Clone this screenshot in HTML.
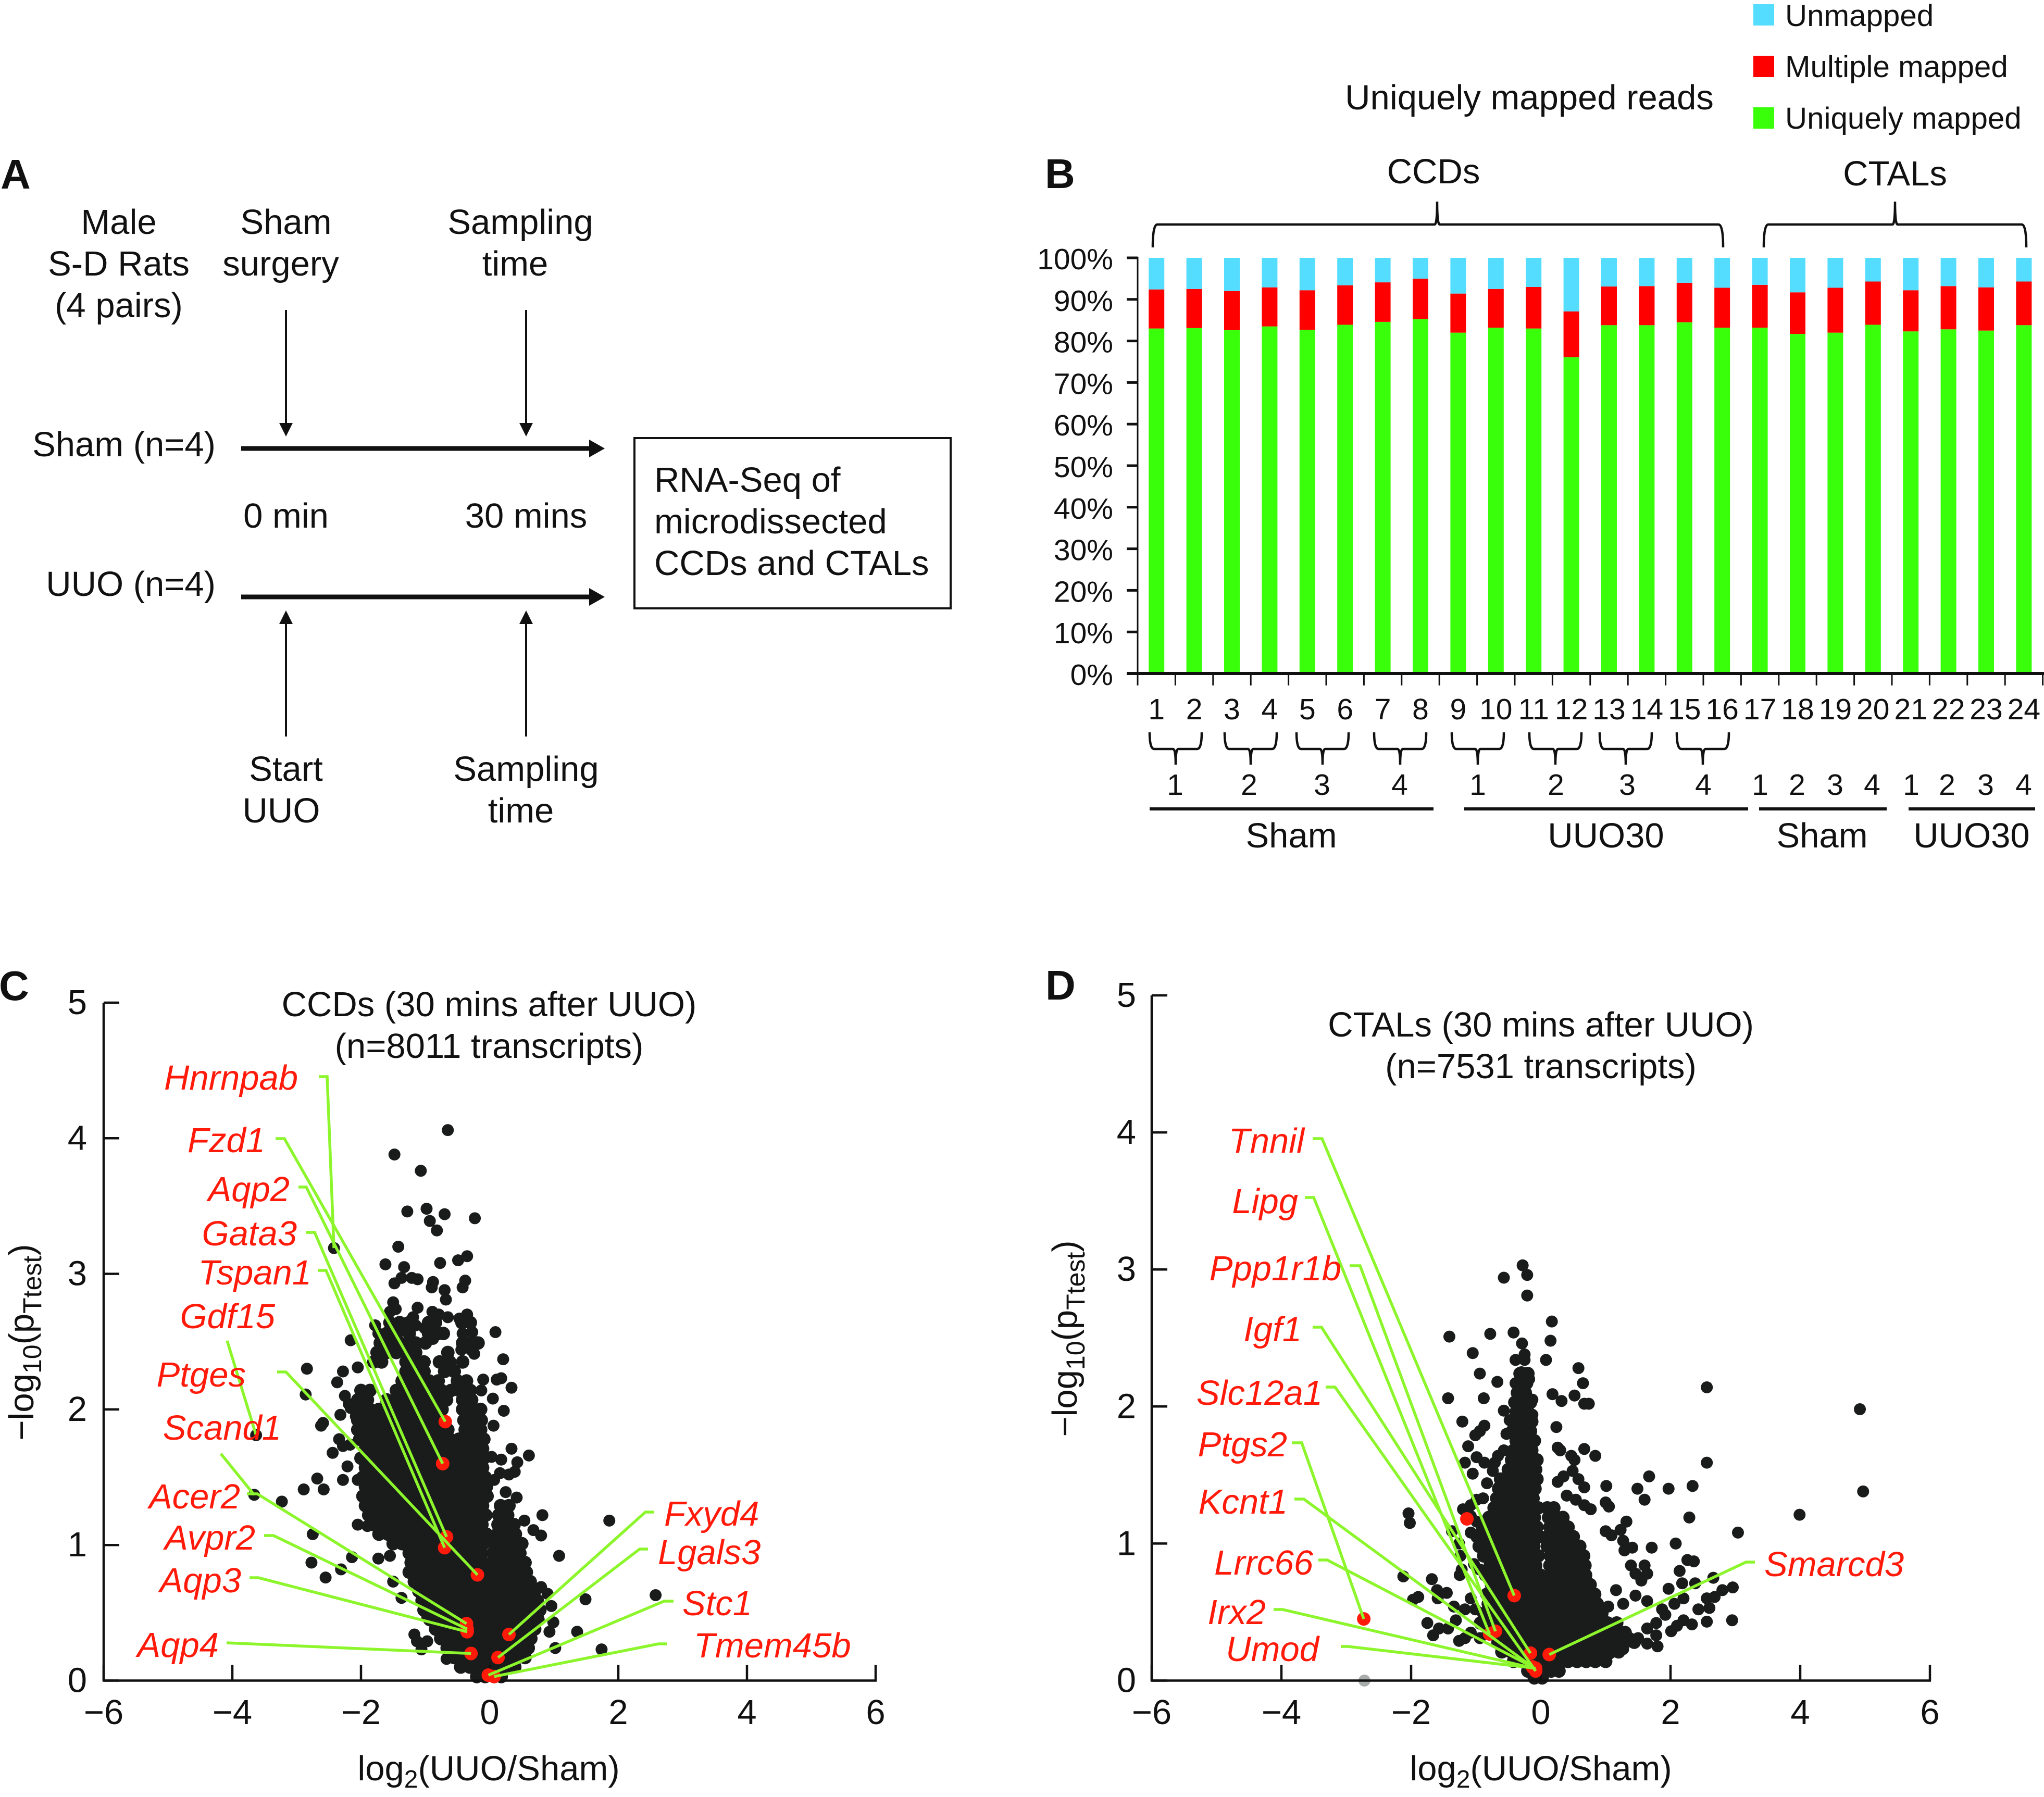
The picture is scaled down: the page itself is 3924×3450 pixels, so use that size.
<!DOCTYPE html>
<html>
<head>
<meta charset="utf-8">
<title>Uniquely mapped reads and volcano plots</title>
<style>
html,body{margin:0;padding:0;background:#fff}
svg{display:block}
text{font-family:"Liberation Sans",Arial,sans-serif;fill:#111}
</style>
</head>
<body>
<svg id="fig" xmlns="http://www.w3.org/2000/svg" width="3924" height="3450" viewBox="0 0 3924 3450">
<rect width="3924" height="3450" fill="#fff"/>
<g id="panel-a" font-size="67">
<text x="1" y="362" font-size="80" font-weight="700">A</text>
<text x="228" y="449" text-anchor="middle">Male</text>
<text x="228" y="529" text-anchor="middle">S-D Rats</text>
<text x="228" y="609" text-anchor="middle">(4 pairs)</text>
<text x="549" y="449" text-anchor="middle">Sham</text>
<text x="539" y="529" text-anchor="middle">surgery</text>
<text x="999" y="449" text-anchor="middle">Sampling</text>
<text x="989" y="529" text-anchor="middle">time</text>
<g stroke="#111" stroke-width="4">
<line x1="549" y1="595" x2="549" y2="820"/><line x1="1010" y1="595" x2="1010" y2="820"/>
</g>
<polygon points="536,812 562,812 549,838" fill="#111"/>
<polygon points="997,812 1023,812 1010,838" fill="#111"/>
<text x="414" y="876" text-anchor="end">Sham (n=4)</text>
<line x1="463" y1="861" x2="1135" y2="861" stroke="#111" stroke-width="9"/>
<polygon points="1131,844 1161,861 1131,878" fill="#111"/>
<text x="549" y="1013" text-anchor="middle">0 min</text>
<text x="1010" y="1013" text-anchor="middle">30 mins</text>
<text x="414" y="1144" text-anchor="end">UUO (n=4)</text>
<line x1="463" y1="1146" x2="1135" y2="1146" stroke="#111" stroke-width="9"/>
<polygon points="1131,1129 1161,1146 1131,1163" fill="#111"/>
<g stroke="#111" stroke-width="4">
<line x1="549" y1="1414" x2="549" y2="1190"/><line x1="1010" y1="1414" x2="1010" y2="1190"/>
</g>
<polygon points="536,1198 562,1198 549,1172" fill="#111"/>
<polygon points="997,1198 1023,1198 1010,1172" fill="#111"/>
<text x="549" y="1499" text-anchor="middle">Start</text>
<text x="540" y="1579" text-anchor="middle">UUO</text>
<text x="1010" y="1499" text-anchor="middle">Sampling</text>
<text x="1000" y="1579" text-anchor="middle">time</text>
<rect x="1218" y="841" width="607" height="327" fill="none" stroke="#111" stroke-width="4"/>
<text x="1256" y="944">RNA-Seq of</text>
<text x="1256" y="1024">microdissected</text>
<text x="1256" y="1104">CCDs and CTALs</text>
</g>
<g id="panel-b" font-size="67">
<text x="2006" y="361" font-size="80" font-weight="700">B</text>
<text x="2936" y="210" text-anchor="middle">Uniquely mapped reads</text>
<text x="2752" y="352" text-anchor="middle">CCDs</text>
<text x="3638" y="356" text-anchor="middle">CTALs</text>
<rect x="3366" y="8" width="40" height="41" fill="#55DDFF"/>
<rect x="3366" y="107" width="40" height="41" fill="#FF0000"/>
<rect x="3366" y="206" width="40" height="41" fill="#39FF0A"/>
<text x="3427" y="50" font-size="58.3">Unmapped</text>
<text x="3427" y="148" font-size="58.3">Multiple mapped</text>
<text x="3427" y="247" font-size="58.3">Uniquely mapped</text>
<g id="bars"></g>
<g id="b-axes"></g>
<g id="b-annot"></g>
</g>
<g id="panel-c" font-size="67">
<text x="-2" y="1920" font-size="80" font-weight="700">C</text>
<text x="939" y="1951" text-anchor="middle">CCDs (30 mins after UUO)</text>
<text x="939" y="2031" text-anchor="middle">(n=8011 transcripts)</text>
<g id="c-points"></g>
<g id="c-axes"></g>
<g id="c-genes"></g>
<text x="938" y="3418" text-anchor="middle">log<tspan font-size="48" dy="14">2</tspan><tspan dy="-14">(UUO/Sham)</tspan></text>
<text transform="translate(64,2577) rotate(-90)" text-anchor="middle">−log<tspan font-size="50" dy="15">10</tspan><tspan dy="-15">(p</tspan><tspan font-size="50" dy="15">Ttest</tspan><tspan dy="-15">)</tspan></text>
</g>
<g id="panel-d" font-size="67">
<text x="2007" y="1919" font-size="80" font-weight="700">D</text>
<text x="2958" y="1990" text-anchor="middle">CTALs (30 mins after UUO)</text>
<text x="2958" y="2070" text-anchor="middle">(n=7531 transcripts)</text>
<g id="d-points"></g>
<g id="d-axes"></g>
<g id="d-genes"></g>
<text x="2958" y="3418" text-anchor="middle">log<tspan font-size="48" dy="14">2</tspan><tspan dy="-14">(UUO/Sham)</tspan></text>
<text transform="translate(2067,2570) rotate(-90)" text-anchor="middle">−log<tspan font-size="50" dy="15">10</tspan><tspan dy="-15">(p</tspan><tspan font-size="50" dy="15">Ttest</tspan><tspan dy="-15">)</tspan></text>
</g>
</svg>
<script>
// ---------- Panel B data ----------
const sampleIds = [1,2,3,4,5,6,7,8,9,10,11,12,13,14,15,16,17,18,19,20,21,22,23,24];
const uniquelyMapped = [83.0,83.1,82.6,83.5,82.7,83.9,84.6,85.3,82.0,83.2,83.0,76.1,83.8,83.8,84.5,83.2,83.2,81.7,82.0,83.9,82.3,82.8,82.5,83.8];
const multipleMapped = [9.4,9.4,9.4,9.4,9.5,9.5,9.5,9.7,9.4,9.3,10.0,11.0,9.3,9.4,9.5,9.6,10.3,10.0,10.8,10.4,9.9,10.4,10.4,10.5];
const unmapped = [7.6,7.5,8.0,7.1,7.8,6.6,5.9,5.0,8.6,7.5,7.0,12.9,6.9,6.8,6.0,7.2,6.5,8.3,7.2,5.7,7.8,6.8,7.1,5.7];
const percentTicks = [0,10,20,30,40,50,60,70,80,90,100];

// ---------- Panel C data ----------
const ccdOutliers = [[-.65,4.06],[-1.48,3.88],[-1.07,3.76],[-.98,3.48],[-1.28,3.46],[-.70,3.44],[-.93,3.39],[-.82,3.32],[-.23,3.41],[-1.42,3.20],[-1.62,3.07],[-1.33,3.05],[-.77,3.08],[-.49,3.10],[-.35,3.13],[-1.48,2.93],[-1.37,2.97],[-1.21,2.97],[-1.12,2.96],[-.90,2.90],[-.88,2.94],[-.70,2.88],[-.38,2.95],[-.42,2.90],[-.68,2.81],[-1.12,2.75],[-1.50,2.79],[-1.55,2.72],[-1.46,2.74],[-.35,2.70],[-.47,2.67],[-.65,2.68],[-1.78,2.62],[-.89,2.72],[-.79,2.70],[-1.19,2.68],[-1.28,2.64],[-1.37,2.58],[-1.15,2.62],[-.92,2.62],[-1.01,2.60],[-.83,2.64],[.09,2.57],[-.42,2.56],[-.27,2.57],[-2.16,2.51],[-1.73,2.56],[-.88,2.52],[-.33,2.49],[-.44,2.44],[-.24,2.41],[-.29,2.44],[.21,2.37],[-2.84,2.30],[-2.28,2.28],[-2.05,2.31],[-2.37,2.20],[-.10,2.22],[.11,2.22],[.18,2.23],[.34,2.16],[-.13,2.14],[-2.86,2.11],[-2.25,2.10],[-2.19,2.04],[-2.16,2.01],[.05,2.08],[.22,1.99],[-2.32,1.96],[-2.08,1.95],[-2.59,1.90],[-2.62,1.88],[.06,1.88],[-2.34,1.78],[-2.28,1.73],[-2.44,1.68],[-2.17,1.74],[.34,1.71],[.61,1.66],[.03,1.65],[.18,1.63],[.43,1.61],[-2.21,1.58],[.16,1.53],[.30,1.52],[.39,1.54],[.07,1.48],[-2.28,1.48],[-2.05,1.48],[-2.68,1.49],[-2.58,1.41],[-2.89,1.41],[.25,1.39],[.42,1.35],[-3.23,1.32],[.82,1.22],[1.86,1.18],[-2.05,1.15],[-1.90,1.14],[.54,1.18],[.68,1.11],[.80,1.07],[-2.75,1.08],[1.08,.92],[-2.14,.91],[-1.73,.90],[-1.55,.92],[-2.77,.87],[-2.31,.82],[-2.55,.76],[-1.5,.73],[-1.37,.61],[2.58,.63],[1.49,.60],[.96,.55],[.90,.64],[.80,.69],[.99,.43],[1.36,.36],[1.74,.23],[1.02,.24],[.93,.36],[-1.17,.34],[-1.13,.29],[-1.06,.23],[-.97,.29],[-.67,.16],[-.97,.47]];
const ccdCloudRows = [
[.03,[-.2,-.07,.07,.18]],
[.10,[-.45,-.31,-.17,-.03,.11,.25,.39]],
[.17,[-.55,-.41,-.27,-.13,.01,.15,.29,.43,.55]],
[.24,[-.66,-.52,-.38,-.24,-.10,.04,.18,.32,.46,.60]],
[.31,[-.76,-.62,-.48,-.34,-.2,-.06,.08,.22,.36,.5,.64]],
[.38,[-.84,-.7,-.56,-.42,-.28,-.14,0,.14,.28,.42,.56,.70]],
[.45,[-.93,-.79,-.65,-.51,-.37,-.23,-.09,.05,.19,.33,.47,.61,.75]],
[.52,[-1.02,-.88,-.74,-.6,-.46,-.32,-.18,-.04,.1,.24,.38,.52,.66,.78]],
[.59,[-1.05,-.91,-.77,-.63,-.49,-.35,-.21,-.07,.07,.21,.35,.49,.63,.74]],
[.66,[-1.1,-.96,-.82,-.68,-.54,-.4,-.26,-.12,.02,.16,.3,.44,.58,.7]],
[.73,[-1.17,-1.03,-.89,-.75,-.61,-.47,-.33,-.19,-.05,.09,.23,.37,.51,.63]],
[.80,[-1.25,-1.11,-.97,-.83,-.69,-.55,-.41,-.27,-.13,.01,.15,.29,.43,.57]],
[.87,[-1.22,-1.08,-.94,-.8,-.66,-.52,-.38,-.24,-.1,.04,.18,.32,.46,.55]],
[.94,[-1.25,-1.11,-.97,-.83,-.69,-.55,-.41,-.27,-.13,.05,.19,.33,.47]],
[1.01,[-1.5,-1.36,-1.22,-1.08,-.94,-.8,-.66,-.52,-.38,-.24,-.1,.08,.22,.36,.5]],
[1.08,[-1.72,-1.58,-1.44,-1.3,-1.16,-1.02,-.88,-.74,-.6,-.46,-.32,-.18,-.05,.12,.26,.4]],
[1.15,[-1.8,-1.66,-1.52,-1.38,-1.24,-1.1,-.96,-.82,-.68,-.54,-.4,-.26,-.12,.13,.27,.38]],
[1.22,[-1.88,-1.74,-1.6,-1.46,-1.32,-1.18,-1.04,-.9,-.76,-.62,-.48,-.34,-.2,-.06,.14,.28]],
[1.29,[-1.93,-1.79,-1.65,-1.51,-1.37,-1.23,-1.09,-.95,-.81,-.67,-.53,-.39,-.25,-.11,.17,.3]],
[1.36,[-1.97,-1.83,-1.69,-1.55,-1.41,-1.27,-1.13,-.99,-.85,-.71,-.57,-.43,-.29,-.15,-.04]],
[1.43,[-1.93,-1.79,-1.65,-1.51,-1.37,-1.23,-1.09,-.95,-.81,-.67,-.53,-.39,-.25,-.11,-.05]],
[1.50,[-1.97,-1.83,-1.69,-1.55,-1.41,-1.27,-1.13,-.99,-.85,-.71,-.57,-.43,-.29,-.15,-.07]],
[1.57,[-1.93,-1.79,-1.65,-1.51,-1.37,-1.23,-1.09,-.95,-.81,-.67,-.53,-.39,-.25,-.11]],
[1.64,[-2.0,-1.86,-1.72,-1.58,-1.44,-1.3,-1.16,-1.02,-.88,-.74,-.6,-.46,-.32,-.18,-.09]],
[1.71,[-1.93,-1.79,-1.65,-1.51,-1.37,-1.23,-1.09,-.95,-.81,-.67,-.53,-.39,-.25,-.11]],
[1.78,[-2.02,-1.88,-1.74,-1.6,-1.46,-1.32,-1.18,-1.04,-.9,-.76,-.62,-.48,-.34,-.2,-.09]],
[1.85,[-2.05,-1.91,-1.77,-1.63,-1.49,-1.35,-1.21,-1.07,-.93,-.79,-.65,-.38,-.26,-.14]],
[1.92,[-2.05,-1.9,-1.76,-1.62,-1.48,-1.34,-1.2,-1.06,-.92,-.8,-.4,-.26,-.13]],
[2.00,[-2.0,-1.86,-1.72,-1.58,-1.44,-1.3,-1.16,-1.02,-.88,-.74,-.42,-.28,-.14]],
[2.07,[-2.05,-1.9,-1.6,-1.46,-1.32,-1.18,-1.04,-.9,-.76,-.67,-.42,-.28]],
[2.14,[-2.0,-1.86,-1.45,-1.31,-1.17,-1.03,-.89,-.75,-.6,-.47,-.3]],
[2.21,[-1.36,-1.22,-1.08,-.94,-.8,-.5,-.36]],
[2.28,[-1.3,-1.16,-1.02,-.7,-.55]],
[2.35,[-1.8,-1.68,-1.3,-1.15,-1.02,-.78,-.62,-.42]],
[2.42,[-1.75,-1.6,-1.45,-1.3,-1.15,-.65]],
[2.49,[-1.7,-1.55,-1.4,-1.28,-1.15,-1.0,-.42,-.3,-.18]],
[2.56,[-1.6,-1.45,-1.25,-.95,-.8,-.72]],
[2.64,[-1.55,-1.4,-1.25,-.95,-.43,-.3]]
];
const ccdGenes = ['Hnrnpab','Fzd1','Aqp2','Gata3','Tspan1','Gdf15','Ptges','Scand1','Acer2','Avpr2','Aqp3','Aqp4','Fxyd4','Lgals3','Stc1','Tmem45b'];
const ccdGeneLog2 = [-2.42,-.69,-.73,-.67,-.70,-3.63,-.19,-3.66,-.36,-.35,-.35,-.29,.30,.13,-.02,.07];
const ccdGeneP = [3.19,1.91,1.60,1.06,.98,1.81,.78,1.37,.42,.38,.36,.20,.34,.17,.04,.03];
const ccdBlackGenes = ['Hnrnpab','Gdf15','Scand1'];
const ccdExtraHighlights = [[-.02,.04]];

// ---------- Panel D data ----------
const ctalOutliers = [[-.28,3.03],[-.21,2.96],[-.57,2.94],[-.21,2.81],[.17,2.62],[-1.41,2.51],[-.78,2.53],[-.42,2.54],[.15,2.48],[-.29,2.46],[-1.05,2.39],[.08,2.34],[-.25,2.38],[-.25,2.34],[-.39,2.34],[.58,2.28],[-.94,2.24],[.65,2.17],[-.67,2.18],[2.56,2.14],[-.3,2.25],[-.18,2.2],[-.39,2.17],[.18,2.09],[.32,2.04],[.52,2.08],[.67,2.02],[.74,2.02],[4.92,1.98],[-1.43,2.06],[-.88,2.06],[-.13,2.05],[-.57,1.97],[-.34,2.09],[-.3,1.97],[-.2,1.99],[-1.21,1.89],[.24,1.85],[-.87,1.86],[-.94,1.82],[-1.01,1.79],[-.53,1.8],[-.48,1.9],[-.39,1.86],[-.13,1.94],[-.16,1.82],[.26,1.7],[.3,1.68],[-1.12,1.71],[.67,1.69],[.84,1.64],[.47,1.64],[.52,1.61],[2.56,1.59],[-1.17,1.59],[-.99,1.63],[-.87,1.59],[-1.05,1.51],[-.83,1.44],[-.57,1.68],[-.66,1.64],[-.71,1.59],[-.74,1.53],[-.65,1.41],[1.67,1.49],[1.01,1.42],[2.34,1.42],[1.49,1.40],[1.97,1.40],[1.6,1.32],[.26,1.45],[.35,1.49],[.49,1.53],[.58,1.47],[.67,1.41],[.4,1.35],[.54,1.32],[.67,1.28],[.77,1.25],[1.0,1.3],[1.05,1.27],[-2.04,1.22],[-2.02,1.15],[2.29,1.19],[3.99,1.21],[4.97,1.38],[1.32,1.16],[1.23,1.10],[1.09,1.06],[1.0,1.09],[1.27,1.02],[1.29,.95],[1.41,.97],[1.71,.97],[1.6,.84],[1.39,.84],[1.46,.78],[1.64,.78],[2.08,1.0],[3.04,1.08],[2.26,.88],[2.36,.87],[2.14,.8],[1.97,.67],[2.18,.71],[2.38,.71],[2.66,.75],[2.96,.68],[2.8,.66],[2.56,.6],[2.68,.61],[2.06,.56],[2.2,.6],[2.43,.52],[2.6,.53],[2.95,.44],[2.56,.43],[1.87,.52],[1.92,.48],[2.2,.44],[2.33,.41],[2.1,.4],[2.01,.36],[1.78,.42],[1.64,.38],[1.78,.33],[1.8,.25],[1.64,.27],[1.5,.31],[1.37,.31],[1.27,.23],[1.13,.38],[1.04,.19],[1.46,.62],[1.55,.73],[1.64,.58],[1.16,.66],[1.27,.56],[1.04,.54],[.9,.54],[-2.12,.76],[-1.68,.74],[-1.97,.59],[-1.89,.61],[-1.6,.66],[-1.45,.64],[-1.59,.6],[-1.75,.42],[-1.66,.33],[-1.57,.38],[-1.43,.38],[-1.34,.54],[-1.31,.44],[-1.26,.29],[-1.17,.31],[-1.08,.35],[-.94,.31],[-1.17,.52],[-1.08,.6],[-1.01,.52],[-.8,.5],[-1.37,1.09],[-1.26,1.0],[-1.24,.91],[-1.25,.77],[-1.08,1.08],[-1.22,.81],[-1.03,.85],[-.94,.81],[-1.2,1.25],[-1.08,1.28],[-.99,1.32],[-.89,1.33],[-.99,1.16],[-1.08,1.2]];
const ctalCloudRows = [
[.02,[-.1,.02]],
[.07,[-.2,-.08,.04,.16,.28]],
[.14,[-.42,-.28,-.14,0,.14,.28,.42,.56,.7,.84,1.0]],
[.21,[-.6,-.46,-.32,-.18,-.04,.1,.24,.38,.52,.66,.8,.94,1.08,1.2]],
[.28,[-.66,-.52,-.38,-.24,-.1,.04,.18,.32,.46,.6,.74,.88,1.02,1.16,1.3,1.44]],
[.35,[-.8,-.66,-.52,-.38,-.24,-.1,.04,.18,.32,.46,.6,.74,.88,1.0,1.15,1.3]],
[.42,[-.93,-.79,-.65,-.51,-.37,-.23,-.09,.05,.19,.33,.47,.61,.75,.89,1.03,1.17]],
[.49,[-.88,-.74,-.6,-.46,-.32,-.18,-.04,.1,.24,.38,.52,.66,.8,.94]],
[.56,[-.81,-.67,-.53,-.39,-.25,-.11,.03,.17,.31,.45,.59,.73,.87]],
[.63,[-.83,-.69,-.55,-.41,-.27,-.13,.01,.15,.29,.43,.57,.71,.83]],
[.70,[-.76,-.62,-.48,-.34,-.2,-.06,.08,.22,.36,.5,.64,.76]],
[.77,[-.85,-.71,-.57,-.43,-.29,-.15,-.01,.13,.27,.41,.55,.69]],
[.84,[-.78,-.64,-.5,-.36,-.22,-.08,.14,.28,.42,.56,.68]],
[.91,[-.88,-.74,-.6,-.46,-.32,-.18,-.04,.15,.29,.43,.57,.66]],
[.98,[-.95,-.81,-.67,-.53,-.39,-.25,-.11,.1,.24,.38,.52,.6]],
[1.05,[-.98,-.84,-.7,-.56,-.42,-.28,-.14,-.02,.1,.24,.38,.5]],
[1.12,[-.9,-.76,-.62,-.48,-.34,-.2,-.06,.14,.28,.42]],
[1.19,[-.8,-.66,-.52,-.38,-.24,-.1,.12,.26,.34]],
[1.26,[-.72,-.58,-.44,-.3,-.16,-.04,.1,.2]],
[1.33,[-.68,-.54,-.4,-.26,-.12]],
[1.40,[-.65,-.51,-.37,-.23,-.09]],
[1.47,[-.62,-.48,-.34,-.2,-.06]],
[1.54,[-.5,-.36,-.22,-.08]],
[1.61,[-.45,-.31,-.17,-.06]],
[1.68,[-.42,-.28,-.14]],
[1.75,[-.38,-.24,-.1]],
[1.82,[-.44,-.3,-.16]],
[1.89,[-.4,-.26,-.14]],
[1.96,[-.38,-.24]],
[2.03,[-.4,-.28,-.16]],
[2.10,[-.36,-.24]],
[2.17,[-.34,-.22]],
[2.24,[-.32,-.2]]
];
const ctalGenes = ['Tnnil','Lipg','Ppp1r1b','Igf1','Slc12a1','Ptgs2','Kcnt1','Lrrc66','Irx2','Umod','Smarcd3'];
const ctalGeneLog2 = [-.41,-.79,-.70,-.16,-.08,-2.73,-.13,-.13,-.11,-.08,.13];
const ctalGeneP = [.62,.34,.36,.20,.07,.45,.10,.10,.09,.09,.19];
const ctalExtraHighlights = [[-1.14,1.18]];
const ctalGreyPoints = [[-2.72,0]];

const xTickValues = [-6,-4,-2,0,2,4,6];
const yTickValues = [0,1,2,3,4,5];

// ---------- Label layout (pixel placement of callouts, not data) ----------
const ccdLabelLayout = [
{a:'end',x:572,cy:2069,p:[[612,2067],[628,2067]]},
{a:'end',x:509,cy:2189,p:[[529,2186],[546,2186]]},
{a:'end',x:556,cy:2283,p:[[573,2279],[588,2279]]},
{a:'end',x:570,cy:2368,p:[[587,2366],[604,2366]]},
{a:'end',x:598,cy:2443,p:[[610,2439],[626,2439]]},
{a:'end',x:528,cy:2527,p:[[436,2574]]},
{a:'end',x:472,cy:2639,p:[[532,2634],[549,2634]]},
{a:'end',x:540,cy:2741,p:[[424,2791]]},
{a:'end',x:461,cy:2873,p:[[474,2868],[494,2868]]},
{a:'end',x:490,cy:2952,p:[[507,2948],[525,2948]]},
{a:'end',x:463,cy:3034,p:[[479,3029],[496,3029]]},
{a:'end',x:420,cy:3158,p:[[435,3154]]},
{a:'start',x:1275,cy:2906,p:[[1256,2903],[1239,2903]]},
{a:'start',x:1263,cy:2980,p:[[1244,2974],[1228,2974]]},
{a:'start',x:1310,cy:3078,p:[[1293,3074],[1275,3074]]},
{a:'start',x:1332,cy:3159,p:[[1281,3156],[1264,3156]]}
];
const ctalLabelLayout = [
{a:'end',x:2504,cy:2190,p:[[2520,2186],[2538,2186]]},
{a:'end',x:2492,cy:2306,p:[[2505,2299],[2522,2299]]},
{a:'end',x:2575,cy:2435,p:[[2591,2430],[2611,2430]]},
{a:'end',x:2499,cy:2552,p:[[2520,2548],[2537,2548]]},
{a:'end',x:2539,cy:2674,p:[[2545,2663],[2563,2663]]},
{a:'end',x:2471,cy:2773,p:[[2480,2770],[2499,2770]]},
{a:'end',x:2472,cy:2883,p:[[2485,2878],[2503,2878]]},
{a:'end',x:2521,cy:3000,p:[[2531,2995],[2548,2995]]},
{a:'end',x:2430,cy:3095,p:[[2445,3090],[2462,3090]]},
{a:'end',x:2532,cy:3166,p:[[2574,3161],[2588,3161]]},
{a:'start',x:3387,cy:3003,p:[[3369,2999],[3352,2999]]}
];
const subjectLabels = ['1','2','3','4','1','2','3','4','1','2','3','4','1','2','3','4'];
const subjectLabelX = [2256,2398,2538,2687,2837,2987,3124,3270,3379,3450,3523,3594,3669,3738,3812,3885];
const groupLabels = ['Sham','UUO30','Sham','UUO30'];
const groupStart = [2207,2811,3377,3664];
const groupEnd = [2752,3356,3622,3907];
const groupCenter = [2479,3083,3498,3785];
const pairBraceLeft = [2207,2351,2489,2638,2787,2936,3071,3219];

// ---------- Helpers ----------
const NS = 'http://www.w3.org/2000/svg';
function mk(tag, parent, attrs){
  const el = document.createElementNS(NS, tag);
  for (const k in attrs) el.setAttribute(k, attrs[k]);
  parent.appendChild(el);
  return el;
}
function fmtTick(v){ return String(v).replace('-', '\u2212'); }

// ---------- Panel B ----------
const barsG = document.getElementById('bars');
const bAxes = document.getElementById('b-axes');
const bAnnot = document.getElementById('b-annot');
const bX0 = 2184, bStep = 72.4, bY0 = 1293, bYTop = 495, barW = 30;
const xB = i => bX0 + (i + .5) * bStep;
const yB = v => bY0 - v * (bY0 - bYTop) / 100;
sampleIds.forEach((id, i) => {
  const u = uniquelyMapped[i], m = multipleMapped[i], n = unmapped[i];
  const g = mk('rect', barsG, {x:xB(i)-barW/2, y:yB(u), width:barW, height:yB(0)-yB(u), fill:'#39FF0A'});
  
  
  const r = mk('rect', barsG, {x:xB(i)-barW/2, y:yB(u+m), width:barW, height:yB(u)-yB(u+m), fill:'#FF0000'});
  
  
  const c = mk('rect', barsG, {x:xB(i)-barW/2, y:yB(u+m+n), width:barW, height:yB(u+m)-yB(u+m+n), fill:'#55DDFF'});
  
  
  const t = mk('text', bAxes, {x:xB(i), y:1381, 'text-anchor':'middle', 'font-size':57});
  t.textContent = id;
  
  
});
const bYAxis = mk('line', bAxes, {x1:bX0, y1:bYTop-2, x2:bX0, y2:bY0, stroke:'#111', 'stroke-width':3});


const bXAxis = mk('line', bAxes, {x1:bX0-21, y1:bY0, x2:3924, y2:bY0, stroke:'#111', 'stroke-width':6});


for (let i = 0; i <= sampleIds.length; i++) {
  const tk = mk('line', bAxes, {x1:bX0+i*bStep, y1:bY0, x2:bX0+i*bStep, y2:bY0+23, stroke:'#111', 'stroke-width':3});
  
  
}
percentTicks.forEach(v => {
  const tk = mk('line', bAxes, {x1:bX0-21, y1:yB(v), x2:bX0, y2:yB(v), stroke:'#111', 'stroke-width':5});
  
  
  const t = mk('text', bAxes, {x:2137, y:yB(v)+22, 'text-anchor':'end', 'font-size':57});
  t.textContent = v + '%';
  
  
});
function braceDown(parent, xl, xr, xm, yEnd, yLine, yTip){
  const d = 'M'+xl+','+yEnd+' Q'+xl+','+yLine+' '+(xl+9)+','+yLine+' L'+(xm-5)+','+yLine+' Q'+xm+','+yLine+' '+xm+','+yTip+' Q'+xm+','+yLine+' '+(xm+5)+','+yLine+' L'+(xr-9)+','+yLine+' Q'+xr+','+yLine+' '+xr+','+yEnd;
  return mk('path', parent, {d:d, fill:'none', stroke:'#111', 'stroke-width':4.5});
}
const bTopA = braceDown(bAnnot, 2213, 3308, 2759, 475, 431, 387);


const bTopB = braceDown(bAnnot, 3386, 3890, 3638, 475, 431, 387);


pairBraceLeft.forEach(x => {
  const br = braceDown(bAnnot, x, x+100, x+50, 1406, 1438, 1468);
  
  
});
subjectLabels.forEach((s, i) => {
  const t = mk('text', bAnnot, {x:subjectLabelX[i], y:1526, 'text-anchor':'middle', 'font-size':57});
  t.textContent = s;
  
  
});
groupLabels.forEach((s, i) => {
  const l = mk('line', bAnnot, {x1:groupStart[i], y1:1553, x2:groupEnd[i], y2:1553, stroke:'#111', 'stroke-width':6});
  
  
  const t = mk('text', bAnnot, {x:groupCenter[i], y:1627, 'text-anchor':'middle', 'font-size':67});
  t.textContent = s;
  
  
});

// ---------- Volcano plots ----------
function volcano(ids, ax, outliers, rows, genes, geneX, geneY, blackGenes, extras, greys, layout){
  const pts = document.getElementById(ids + '-points');
  const axes = document.getElementById(ids + '-axes');
  const call = document.getElementById(ids + '-genes');
  const X = v => ax.x0 + v * ax.sx;
  const Y = v => ax.y0 - v * ax.sy;
  const dotR = 11.5;
  const cloudR = 13;
  const black = '#1a1c1c';
  rows.forEach(row => {
    row[1].forEach(xv => {
      const c = mk('circle', pts, {cx:X(xv), cy:Y(row[0]), r:cloudR, fill:black});
      
      
    });
  });
  outliers.forEach(p => {
    const c = mk('circle', pts, {cx:X(p[0]), cy:Y(p[1]), r:dotR, fill:black});
    
    
  });
  greys.forEach(p => {
    const c = mk('circle', pts, {cx:X(p[0]), cy:Y(p[1]), r:dotR, fill:'#a8adab'});
    
    
  });
  // axes
  const ya = mk('line', axes, {x1:X(-6), y1:Y(5), x2:X(-6), y2:Y(0)+2, stroke:'#111', 'stroke-width':4.5});
  
  
  const xa = mk('line', axes, {x1:X(-6)-2, y1:Y(0), x2:X(6)+2, y2:Y(0), stroke:'#111', 'stroke-width':4.5});
  
  
  xTickValues.forEach(v => {
    const tk = mk('line', axes, {x1:X(v), y1:Y(0), x2:X(v), y2:Y(0)-30, stroke:'#111', 'stroke-width':4.5});
    
    
    const t = mk('text', axes, {x:X(v), y:3310, 'text-anchor':'middle', 'font-size':67});
    t.textContent = fmtTick(v);
    
    
  });
  yTickValues.forEach(v => {
    const tk = mk('line', axes, {x1:X(-6), y1:Y(v), x2:X(-6)+30, y2:Y(v), stroke:'#111', 'stroke-width':4.5});
    
    
    const t = mk('text', axes, {x:ax.labelRight, y:Y(v)+22, 'text-anchor':'end', 'font-size':67});
    t.textContent = v;
    
    
  });
  // highlighted dots
  extras.forEach(p => {
    const c = mk('circle', call, {cx:X(p[0]), cy:Y(p[1]), r:13, fill:'#FF1A0A'});
    
    
  });
  genes.forEach((g, i) => {
    const isBlack = blackGenes.indexOf(g) >= 0;
    const c = mk('circle', call, {cx:X(geneX[i]), cy:Y(geneY[i]), r:isBlack ? dotR : 13, fill:isBlack ? black : '#FF1A0A'});
    
    
  });
  // leaders then labels
  genes.forEach((g, i) => {
    const L = layout[i];
    const pp = L.p.map(q => q.join(',')).concat([X(geneX[i]) + ',' + Y(geneY[i])]).join(' ');
    const l = mk('polyline', call, {points:pp, fill:'none', stroke:'#8CF52B', 'stroke-width':5.5});
    
    
  });
  genes.forEach((g, i) => {
    const L = layout[i];
    const t = mk('text', call, {x:L.x, y:L.cy+23, 'text-anchor':L.a, 'font-size':67, 'font-style':'italic', style:'fill:#FF1A0A'});
    t.textContent = g;
    
    
  });
}
volcano('c', {x0:940, sx:123.5, y0:3226.5, sy:260.3, labelRight:167}, ccdOutliers, ccdCloudRows, ccdGenes, ccdGeneLog2, ccdGeneP, ccdBlackGenes, ccdExtraHighlights, [], ccdLabelLayout);
volcano('d', {x0:2958, sx:124.5, y0:3226.5, sy:263.1, labelRight:2181}, ctalOutliers, ctalCloudRows, ctalGenes, ctalGeneLog2, ctalGeneP, [], ctalExtraHighlights, ctalGreyPoints, ctalLabelLayout);
</script>
</body>
</html>
